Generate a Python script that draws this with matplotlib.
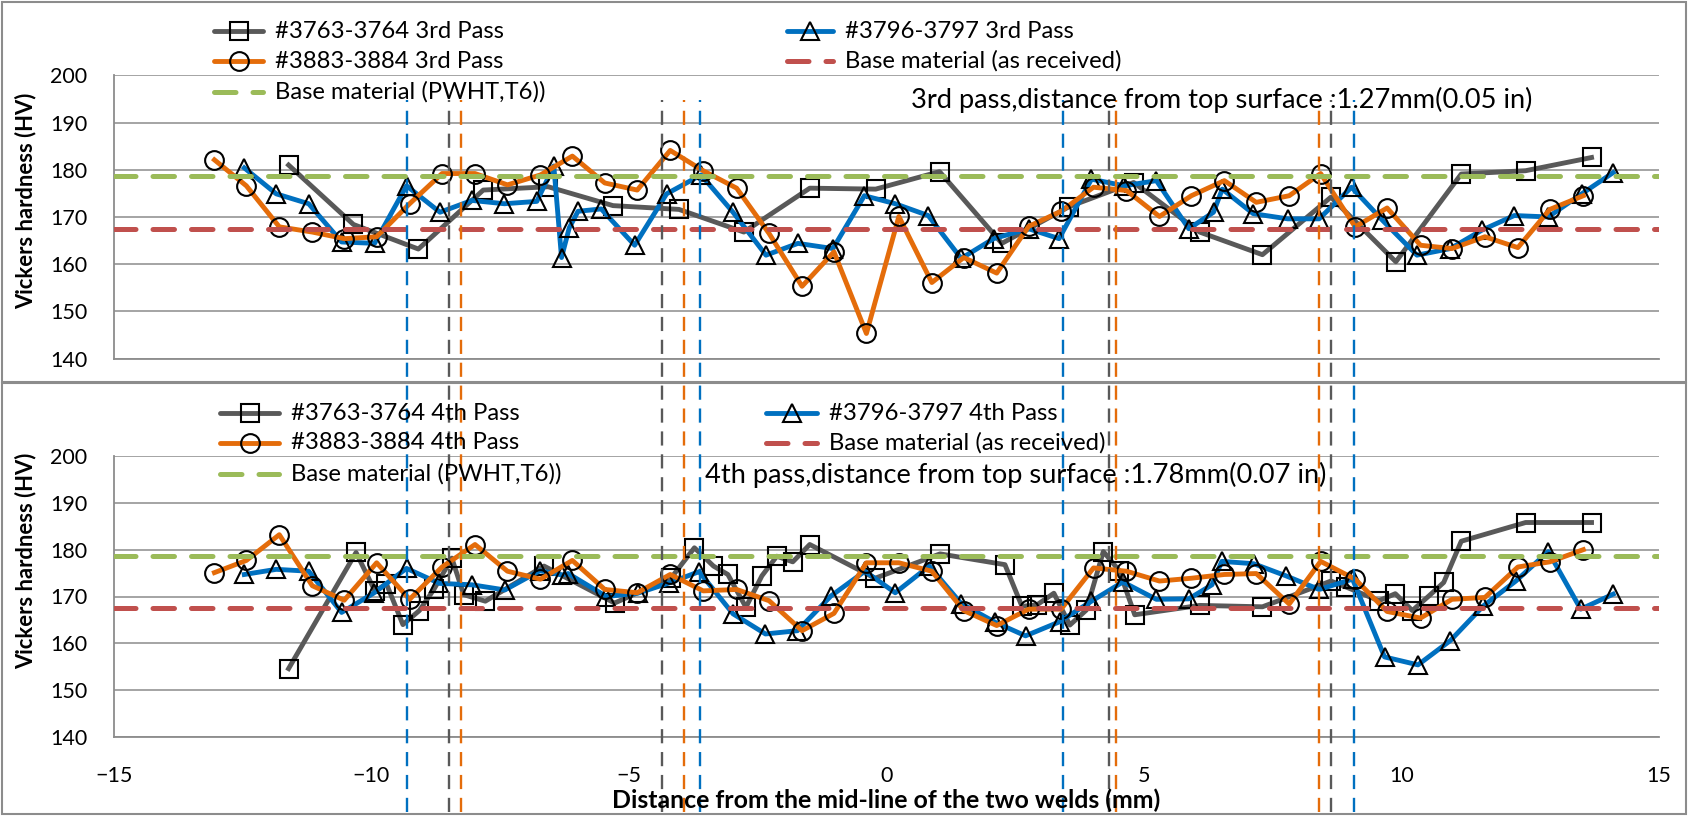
import matplotlib
matplotlib.use("Agg")
import matplotlib.pyplot as plt
from matplotlib.lines import Line2D
from matplotlib.patches import Rectangle
from matplotlib.transforms import blended_transform_factory

plt.rcParams['font.family'] = ['Lato', 'DejaVu Sans']

# ---------------- data ----------------
# 3rd pass, 1.27 mm from the top surface
p3_gray_x = [-11.61, -10.35, -9.09, -7.83, -6.57, -5.31, -4.03, -2.77, -1.49, -0.21, 1.03,
             2.24, 3.55, 4.80, 6.08, 7.30, 8.63, 9.89, 11.16, 12.41, 13.69]
p3_gray_y = [181.0, 168.4, 163.2, 175.7, 176.4, 172.4, 171.6, 166.8, 176.1, 175.9, 179.6,
             164.4, 172.2, 177.3, 166.8, 162.0, 174.2, 160.5, 179.1, 179.8, 182.6]

p3_blue_x = [-12.47, -11.85, -11.22, -10.58, -9.94, -9.32, -8.67, -8.05, -7.42, -6.79, -6.46,
             -6.31, -6.16, -5.99, -5.54, -4.89, -4.27, -3.60, -2.98, -2.34, -1.72, -1.04,
             -0.43, 0.17, 0.81, 1.45, 2.08, 2.76, 3.35, 3.98, 4.62, 5.24, 5.87, 6.35, 6.52,
             7.12, 7.79, 8.40, 9.03, 9.63, 10.30, 10.95, 11.56, 12.19, 12.85, 13.50, 14.11]
p3_blue_y = [180.4, 174.9, 172.8, 164.7, 164.4, 176.6, 171.0, 173.5, 172.8, 173.3, 180.8,
             161.4, 167.7, 171.2, 171.7, 164.0, 174.9, 178.9, 171.0, 161.9, 164.4, 163.3,
             174.5, 172.8, 170.3, 161.2, 165.4, 167.5, 165.4, 178.0, 176.6, 177.7, 167.5,
             171.0, 175.9, 170.7, 169.6, 169.6, 176.3, 169.3, 161.9, 163.3, 167.2, 170.3,
             170.0, 174.9, 179.4]

p3_orange_x = [-13.05, -12.43, -11.79, -11.15, -10.53, -9.90, -9.26, -8.63, -7.99, -7.36, -6.72,
               -6.10, -5.47, -4.84, -4.20, -3.56, -2.91, -2.28, -1.64, -1.02, -0.39, 0.24,
               0.88, 1.50, 2.14, 2.76, 3.39, 4.02, 4.66, 5.30, 5.92, 6.56, 7.18, 7.82, 8.43,
               9.10, 9.72, 10.37, 10.98, 11.62, 12.26, 12.88, 13.53]
p3_orange_y = [182.1, 176.6, 167.9, 166.8, 165.4, 165.8, 172.8, 179.2, 179.2, 176.8, 178.9,
               182.9, 177.2, 175.7, 184.1, 179.8, 176.1, 166.5, 155.3, 162.6, 145.3, 170.1,
               156.1, 161.4, 158.1, 168.0, 171.2, 176.3, 175.6, 170.1, 174.5, 177.7, 173.1,
               174.5, 179.2, 167.9, 171.9, 164.0, 163.3, 165.8, 163.5, 171.6, 174.5]

# 4th pass, 1.78 mm from the top surface
p4_gray_x = [-11.61, -10.30, -9.93, -9.71, -9.39, -9.07, -8.79, -8.44, -8.21, -7.79, -6.65,
             -5.28, -4.18, -3.73, -3.36, -3.08, -2.73, -2.42, -2.13, -1.82, -1.49, -0.22,
             1.04, 2.30, 2.63, 2.92, 3.25, 3.56, 3.88, 4.21, 4.52, 4.82, 6.08, 7.30, 8.63,
             8.93, 9.56, 9.88, 10.21, 10.53, 10.82, 11.16, 12.41, 13.69]
p4_gray_y = [154.6, 179.4, 171.1, 172.7, 164.0, 167.0, 171.5, 178.2, 170.4, 169.0, 176.5,
             168.6, 174.0, 180.4, 176.5, 174.7, 167.7, 174.4, 178.6, 177.4, 181.1, 173.9,
             179.1, 176.8, 167.9, 168.2, 170.7, 163.9, 167.1, 179.6, 175.5, 166.1, 168.1,
             167.8, 173.3, 172.0, 169.1, 170.6, 167.0, 170.1, 173.0, 181.8, 185.8, 185.8]

p4_blue_x = [-12.47, -11.85, -11.22, -10.58, -9.96, -9.32, -8.68, -8.05, -7.41, -6.73, -6.30,
             -6.18, -5.44, -4.83, -4.22, -3.64, -2.98, -2.35, -1.73, -1.08, -0.42, 0.17,
             0.83, 1.45, 2.11, 2.70, 3.36, 3.98, 4.59, 5.24, 5.87, 6.32, 6.51, 7.13, 7.76,
             8.40, 9.05, 9.67, 10.32, 10.95, 11.59, 12.22, 12.85, 13.48, 14.11]
p4_blue_y = [174.7, 175.8, 175.4, 166.6, 170.7, 176.0, 172.8, 172.5, 171.4, 175.5, 174.6,
             174.9, 170.0, 170.7, 172.9, 175.3, 166.3, 162.0, 162.7, 170.1, 175.4, 170.8,
             176.5, 168.5, 164.5, 161.6, 164.6, 169.0, 173.1, 169.4, 169.5, 172.5, 177.5,
             177.0, 174.4, 171.5, 173.7, 157.1, 155.4, 160.6, 168.0, 173.3, 179.6, 167.3,
             170.5]

p4_orange_x = p3_orange_x
p4_orange_y = [175.1, 177.7, 183.2, 172.3, 169.2, 177.2, 169.4, 176.3, 181.1, 175.4, 173.7,
               177.7, 171.5, 170.8, 174.7, 171.2, 171.5, 169.1, 162.7, 166.4, 177.2, 177.2,
               175.4, 167.0, 163.8, 167.3, 167.3, 176.1, 175.4, 173.3, 173.9, 174.7, 174.9,
               168.4, 177.5, 173.7, 166.8, 165.4, 169.4, 169.8, 176.3, 177.4, 180.0]

# base material hardness levels (HV)
base_as_received = 167.5
base_pwht_t6 = 178.7

# weld boundary positions (mm) for each weld pair
bound_gray = [-8.49, -4.36, 4.32, 8.64]
bound_blue = [-9.32, -3.63, 3.43, 9.08]
bound_orange = [-8.26, -3.94, 4.45, 8.40]

x_ticks = [-15, -10, -5, 0, 5, 10, 15]
y_ticks = [140, 150, 160, 170, 180, 190, 200]

labels_p3 = ["#3763-3764 3rd Pass", "#3796-3797 3rd Pass", "#3883-3884 3rd Pass"]
labels_p4 = ["#3763-3764 4th Pass", "#3796-3797 4th Pass", "#3883-3884 4th Pass"]
label_recv = "Base material (as received)"
label_pwht = "Base material (PWHT,T6))"
note_p3 = "3rd pass,distance from top surface :1.27mm(0.05 in)"
note_p4 = "4th pass,distance from top surface :1.78mm(0.07 in)"
ylab = "Vickers hardness (HV)"
xlab = "Distance from the mid-line of the two welds (mm)"

# ---------------- style ----------------
GRAY = '#595959'
BLUE = '#0070C0'
ORANGE = '#E46C0A'
RED = '#C0504D'
GREEN = '#9BBB59'
GRID = '#8C8C8C'
FRAME = '#8C8C8C'

W, H, DPI = 1688, 816, 100
fig = plt.figure(figsize=(W / DPI, H / DPI), dpi=DPI)


def fx(px):
    return px / W


def fy(py):
    return 1 - py / H


SERIES_LW = 3.5
MS = 13.5
MEW = 1.5
BASE_LW = 3.6
BASE_DASH = (0, (4.3, 3.4))
TICK_FS = 15.5
LEG_FS = 17.2
NOTE_FS = 19.6
YLAB_FS = 15.8
XLAB_FS = 17.9

AX_LEFT, AX_RIGHT = 114, 1659


def make_axes(top_px, bottom_px, show_xlabels):
    ax = fig.add_axes([fx(AX_LEFT), fy(bottom_px), fx(AX_RIGHT - AX_LEFT),
                       (bottom_px - top_px) / H])
    ax.set_xlim(-15, 15)
    ax.set_ylim(140, 200)
    ax.set_yticks(y_ticks)
    ax.set_xticks(x_ticks)
    ax.yaxis.grid(True, color=GRID, lw=1.1)
    ax.set_axisbelow(True)
    for s in ('top', 'right'):
        ax.spines[s].set_visible(False)
    for s in ('left', 'bottom'):
        ax.spines[s].set_color(GRID)
        ax.spines[s].set_linewidth(1.3)
    ax.tick_params(axis='y', length=0, pad=19, labelsize=TICK_FS)
    ax.tick_params(axis='x', length=0, pad=21, labelsize=TICK_FS)
    if not show_xlabels:
        ax.tick_params(axis='x', labelbottom=False)
    ax.patch.set_alpha(0)
    return ax


def draw_panel(ax, gx, gy, bx, by, ox, oy):
    kw = dict(lw=SERIES_LW, ms=MS, mfc='none', mec='black', mew=MEW, clip_on=False)
    ax.plot(gx, gy, color=GRAY, marker='s', zorder=3, **kw)
    ax.plot(bx, by, color=BLUE, marker='^', zorder=4, **kw)
    ax.plot(ox, oy, color=ORANGE, marker='o', zorder=5, **kw)
    ax.axhline(base_as_received, color=RED, lw=BASE_LW, ls=BASE_DASH,
               dash_capstyle='round', zorder=6)
    ax.axhline(base_pwht_t6, color=GREEN, lw=BASE_LW, ls=BASE_DASH,
               dash_capstyle='round', zorder=6)


ax1 = make_axes(75.4, 358.5, False)
ax2 = make_axes(456.0, 737.0, True)

draw_panel(ax1, p3_gray_x, p3_gray_y, p3_blue_x, p3_blue_y, p3_orange_x, p3_orange_y)
draw_panel(ax2, p4_gray_x, p4_gray_y, p4_blue_x, p4_blue_y, p4_orange_x, p4_orange_y)

fig.text(fx(886), fy(800), xlab, ha='center', va='center',
         fontsize=XLAB_FS, fontweight='bold')

# chart frames
for top, bot in ((2, 381.5), (383, 814)):
    fig.add_artist(Rectangle((fx(2), fy(bot)), fx(1684), (bot - top) / H,
                             transform=fig.transFigure, fill=False, ec=FRAME, lw=1.5))

# y labels
fig.text(fx(26), fy(201), ylab, rotation=90, ha='center', va='center',
         fontsize=YLAB_FS, fontweight='bold')
fig.text(fx(26), fy(561), ylab, rotation=90, ha='center', va='center',
         fontsize=YLAB_FS, fontweight='bold')

# weld boundaries spanning both charts
btrans = blended_transform_factory(ax2.transData, fig.transFigure)
for xs, col in ((bound_blue, BLUE), (bound_gray, GRAY), (bound_orange, ORANGE)):
    for xv in xs:
        fig.add_artist(Line2D([xv, xv], [fy(812), fy(100)], transform=btrans, color=col,
                              lw=1.7, ls=(0, (6.0, 3.7))))


# legends
def legend_entry(x0, x1, y, text, tx, color, marker=None, dashed=False):
    if dashed:
        ln = Line2D([fx(x0), fx(x1)], [fy(y), fy(y)], transform=fig.transFigure, color=color,
                    lw=BASE_LW, ls=BASE_DASH, dash_capstyle='round')
    else:
        ln = Line2D([fx(x0), fx(x1)], [fy(y), fy(y)], transform=fig.transFigure, color=color,
                    lw=SERIES_LW, solid_capstyle='round')
    fig.add_artist(ln)
    if marker:
        fig.add_artist(Line2D([fx((x0 + x1) / 2)], [fy(y)], transform=fig.transFigure,
                              marker=marker, ms=MS, mfc='none', mec='black', mew=MEW, ls='none'))
    fig.text(fx(tx), fy(y), text, ha='left', va='center', fontsize=LEG_FS)


def legend_block(rows, labels, c1, c2):
    (h1a, h1b, t1), (h2a, h2b, t2) = c1, c2
    r1, r2, r3 = rows
    legend_entry(h1a, h1b, r1, labels[0], t1, GRAY, 's')
    legend_entry(h2a, h2b, r1, labels[1], t2, BLUE, '^')
    legend_entry(h1a, h1b, r2, labels[2], t1, ORANGE, 'o')
    legend_entry(h2a, h2b, r2, label_recv, t2, RED, dashed=True)
    legend_entry(h1a, h1b, r3, label_pwht, t1, GREEN, dashed=True)


legend_block((31, 61, 92), labels_p3, (214, 263, 275), (787, 833, 845))
legend_block((413, 443, 474), labels_p4, (220, 279, 291), (766, 817, 829))

fig.text(fx(911), fy(100), note_p3, ha='left', va='center', fontsize=NOTE_FS)
fig.text(fx(705), fy(475), note_p4, ha='left', va='center', fontsize=NOTE_FS)

fig.savefig('out.png', dpi=DPI)
